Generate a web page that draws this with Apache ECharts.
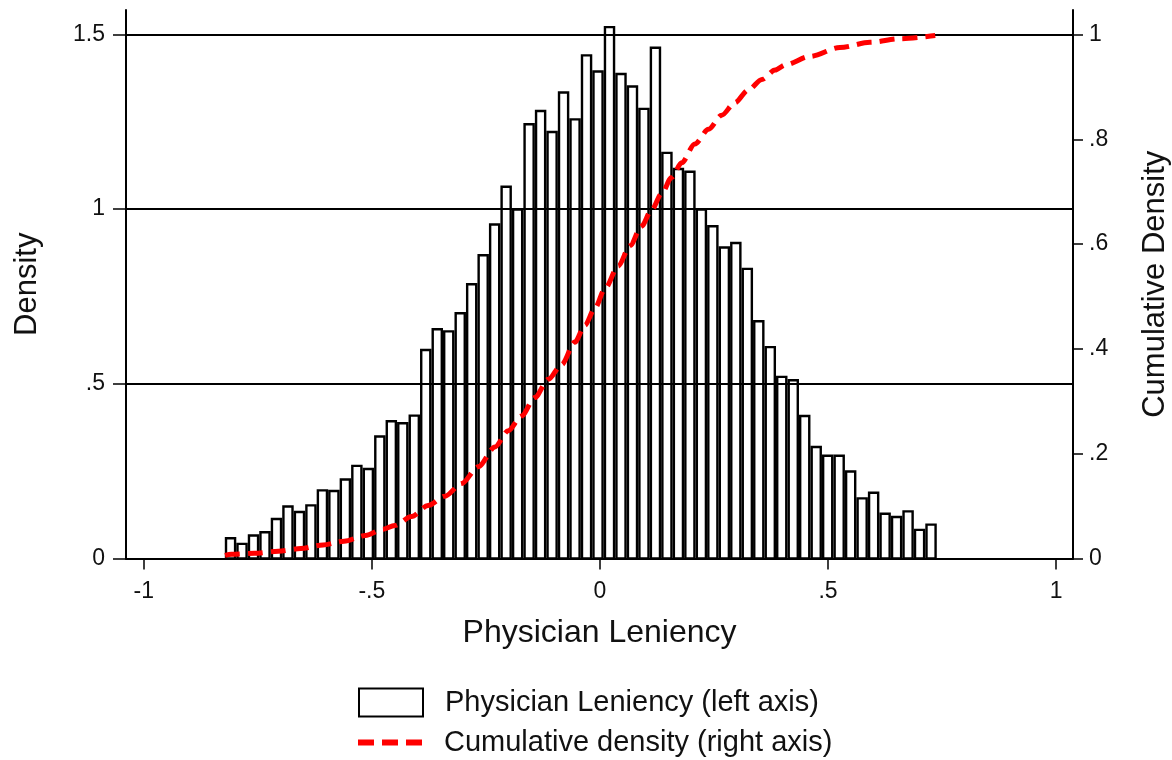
<!DOCTYPE html>
<html>
<head>
<meta charset="utf-8">
<script src="https://cdn.jsdelivr.net/npm/echarts@6/dist/echarts.min.js"></script>
<style>
  html, body { margin: 0; padding: 0; background: #ffffff; }
  #chart { width: 1172px; height: 760px; }
</style>
</head>
<body>
<div id="chart"></div>
<script>
// Histogram of physician leniency: equal-width bins starting at binStart
const binStart = -0.8224;
const binWidth = 0.025174;
const density = [
  0.058, 0.042, 0.066, 0.075, 0.113, 0.149, 0.133, 0.152, 0.195, 0.193,
  0.226, 0.265, 0.256, 0.349, 0.393, 0.387, 0.409, 0.597, 0.656, 0.650,
  0.702, 0.785, 0.868, 0.956, 1.064, 0.999, 1.243, 1.281, 1.221, 1.334,
  1.257, 1.440, 1.394, 1.521, 1.387, 1.351, 1.287, 1.462, 1.161, 1.115,
  1.107, 0.999, 0.951, 0.890, 0.903, 0.829, 0.679, 0.605, 0.520, 0.510,
  0.408, 0.319, 0.294, 0.294, 0.249, 0.172, 0.188, 0.128, 0.119, 0.135,
  0.082, 0.097
];

// Cumulative density of leniency (right axis)
const cumX = [
  -0.822, -0.808, -0.757, -0.705, -0.656, -0.607, -0.561, -0.514, -0.475, -0.450,
  -0.413, -0.377, -0.340, -0.303, -0.267, -0.230, -0.201, -0.172, -0.143, -0.113,
  -0.084, -0.055, -0.033, -0.011, 0.011, 0.040, 0.066, 0.091, 0.113, 0.135,
  0.157, 0.179, 0.208, 0.238, 0.267, 0.296, 0.325, 0.355, 0.384, 0.406,
  0.460, 0.526, 0.592, 0.658, 0.735
];
const cumY = [
  0.006, 0.008, 0.010, 0.014, 0.019, 0.026, 0.033, 0.044, 0.056, 0.063,
  0.080, 0.101, 0.119, 0.143, 0.175, 0.213, 0.244, 0.272, 0.307, 0.342,
  0.370, 0.413, 0.445, 0.478, 0.515, 0.558, 0.597, 0.634, 0.665, 0.696,
  0.727, 0.755, 0.791, 0.819, 0.846, 0.870, 0.894, 0.914, 0.932, 0.942,
  0.958, 0.975, 0.985, 0.992, 0.998
];

// Axis tick values
const xTicks = [-1, -0.5, 0, 0.5, 1];
const densityTicks = [0, 0.5, 1, 1.5];
const cumTicks = [0, 0.2, 0.4, 0.6, 0.8, 1];

const histName = 'Physician Leniency (left axis)';
const cumName = 'Cumulative density (right axis)';

// Stata-style labels: drop the leading zero (".5", "-.5")
const fmt = v => String(v).replace(/^(-?)0\./, '$1.');

const FONT = '"Liberation Sans", Arial, sans-serif';
const INK = '#111111';
const RED = '#ff0000';

const histData = density.map((d, i) => [binStart + i * binWidth, binStart + (i + 1) * binWidth, d]);
const cumData = cumX.map((x, i) => [x, cumY[i]]);

const legendText = { fontFamily: FONT, fontSize: 29, color: INK, padding: [0, 0, 0, 17] };

const chart = echarts.init(document.getElementById('chart'), null, { renderer: 'canvas' });

chart.setOption({
  animation: false,
  backgroundColor: '#ffffff',
  textStyle: { fontFamily: FONT, color: INK },
  grid: { left: 126, right: 99, top: 10, bottom: 201.5, containLabel: false, outerBoundsMode: 'none' },
  legend: [
    {
      left: 358,
      top: 687.5,
      padding: 0,
      itemWidth: 64,
      itemHeight: 28,
      selectedMode: false,
      textStyle: legendText,
      data: [
        { name: histName, icon: 'rect', itemStyle: { color: '#ffffff', borderColor: '#000000', borderWidth: 2 } }
      ]
    },
    {
      left: 358,
      top: 728,
      padding: 0,
      itemWidth: 64,
      itemHeight: 6,
      selectedMode: false,
      textStyle: legendText,
      data: [
        {
          name: cumName,
          icon: 'path://M0,0h16v6h-16zM24,0h16v6h-16zM48,0h16v6h-16z',
          itemStyle: { color: RED, borderWidth: 0 }
        }
      ]
    }
  ],
  xAxis: {
    type: 'value',
    min: -1.039,
    max: 1.037,
    name: 'Physician Leniency',
    nameLocation: 'middle',
    nameGap: 59,
    nameTextStyle: { fontFamily: FONT, fontSize: 32, color: INK },
    axisLine: { show: true, onZero: false, lineStyle: { color: '#000000', width: 2 } },
    axisTick: { show: true, customValues: xTicks, length: 11, lineStyle: { color: '#000000', width: 1.5 } },
    axisLabel: { customValues: xTicks, formatter: fmt, fontSize: 23, color: INK, margin: 22, fontFamily: FONT },
    splitLine: { show: false }
  },
  yAxis: [
    {
      type: 'value',
      position: 'left',
      min: 0,
      max: 1.570,
      name: 'Density',
      nameLocation: 'middle',
      nameGap: 83,
      nameRotate: 90,
      nameTextStyle: { fontFamily: FONT, fontSize: 31, color: INK },
      axisLine: { show: true, onZero: false, lineStyle: { color: '#000000', width: 2 } },
      axisTick: { show: true, customValues: densityTicks, length: 13, lineStyle: { color: '#000000', width: 1.5 } },
      axisLabel: { customValues: densityTicks, formatter: fmt, fontSize: 23, color: INK, margin: 21, fontFamily: FONT },
      splitLine: { show: true, lineStyle: { color: '#000000', width: 2 } }
    },
    {
      type: 'value',
      position: 'right',
      min: 0,
      max: 1.0467,
      name: 'Cumulative Density',
      nameLocation: 'middle',
      nameGap: 67,
      nameRotate: 90,
      nameTextStyle: { fontFamily: FONT, fontSize: 31, color: INK },
      axisLine: { show: true, onZero: false, lineStyle: { color: '#000000', width: 2 } },
      axisTick: { show: true, customValues: cumTicks, length: 10, lineStyle: { color: '#000000', width: 1.5 } },
      axisLabel: { customValues: cumTicks, formatter: fmt, fontSize: 23, color: INK, margin: 16, fontFamily: FONT },
      splitLine: { show: false }
    }
  ],
  series: [
    {
      name: histName,
      type: 'custom',
      xAxisIndex: 0,
      yAxisIndex: 0,
      data: histData,
      encode: { x: [0, 1], y: 2 },
      itemStyle: { color: 'rgba(255,255,255,0)', borderColor: '#000000', borderWidth: 2 },
      renderItem: function (params, api) {
        const top = api.coord([api.value(0), api.value(2)]);
        const base = api.coord([api.value(1), 0]);
        const lw = 2.4;
        return {
          type: 'rect',
          shape: { x: top[0] + lw / 2, y: top[1], width: base[0] - top[0] - lw, height: base[1] - top[1] },
          style: { fill: 'none', stroke: '#000000', lineWidth: lw }
        };
      },
      z: 2
    },
    {
      name: cumName,
      type: 'line',
      xAxisIndex: 0,
      yAxisIndex: 1,
      data: cumData,
      symbol: 'none',
      showSymbol: false,
      smooth: 0.3,
      smoothMonotone: 'x',
      lineStyle: { color: RED, width: 5, type: [15, 8], cap: 'butt' },
      itemStyle: { color: RED },
      z: 3
    }
  ]
});
</script>
</body>
</html>
